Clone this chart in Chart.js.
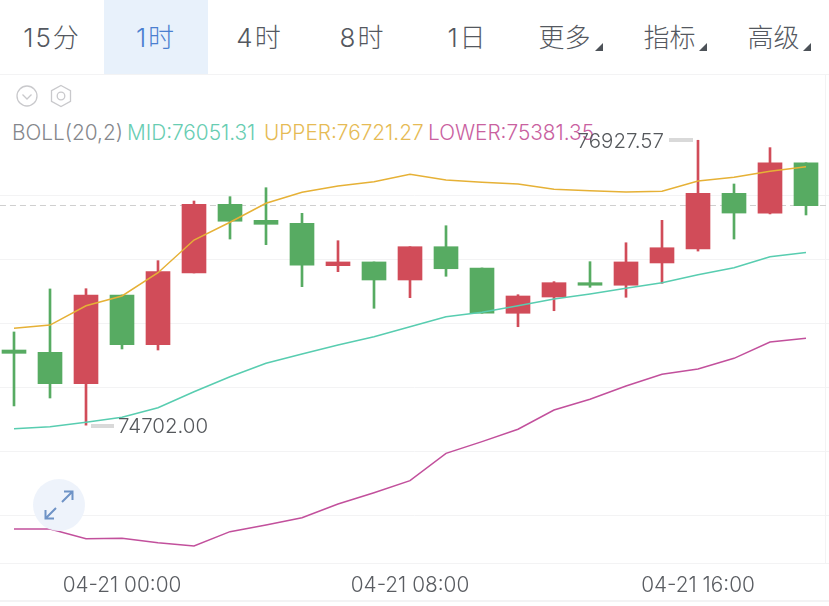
<!DOCTYPE html>
<html lang="zh">
<head>
<meta charset="utf-8">
<script src="https://cdn.jsdelivr.net/npm/chart.js@4"></script>
<style>
html,body{margin:0;padding:0;background:#fff;width:829px;height:606px;overflow:hidden}
#wrap{position:relative;width:829px;height:606px;font-family:Inter,"Noto Sans CJK SC",sans-serif}
.tab{position:absolute;top:0;height:74px;line-height:76px;text-align:center;font-size:26px;color:#545860;font-weight:300;white-space:nowrap}
.tab.num{letter-spacing:2px}
.tab.on{background:#e8f1fb;color:#4a7fd0}
.tri{position:absolute;width:0;height:0;border-left:8px solid transparent;border-bottom:8px solid #4d5258;top:43px}
#boll{position:absolute;left:12px;top:120px;font-size:20.8px;line-height:26px;white-space:nowrap;font-weight:300}
#boll span{position:absolute;top:0}
.rule{position:absolute;background:#f3f3f4}
canvas{position:absolute;left:0;top:0}
svg{position:absolute}
</style>
</head>
<body>
<div id="wrap">
  <div class="tab num" style="left:0;width:104px">15分</div>
  <div class="tab num on" style="left:104px;width:104px">1时</div>
  <div class="tab num" style="left:208px;width:103px">4时</div>
  <div class="tab num" style="left:311px;width:103px">8时</div>
  <div class="tab num" style="left:416px;width:103px">1日</div>
  <div class="tab" style="left:513px;width:103px">更多</div><div class="tri" style="left:595px"></div>
  <div class="tab" style="left:618px;width:103px">指标</div><div class="tri" style="left:699px"></div>
  <div class="tab" style="left:722px;width:103px">高级</div><div class="tri" style="left:803px"></div>
  <div class="rule" style="left:0;top:74px;width:829px;height:1px"></div>
  <svg style="left:14px;top:82px" width="62" height="28" viewBox="0 0 62 28" fill="none" stroke="#c9c9cc" stroke-width="1.3">
    <circle cx="13" cy="14" r="10"/><path d="M8.5 12.5 13 17l4.5-4.5"/>
    <path d="M47 3.5l9.5 5.2v10.6L47 24.5l-9.5-5.2V8.700z"/><circle cx="47" cy="14" r="3.800"/>
  </svg>
  <div id="boll">
    <span style="left:0;color:#85878c">BOLL(20,2)</span>
    <span style="left:115px;color:#68cdb2">MID:76051.31</span>
    <span style="left:252px;color:#e6bb55">UPPER:76721.27</span>
    <span style="left:416px;color:#c9619f">LOWER:75381.35</span>
  </div>
  <div class="rule" style="left:825px;top:75px;width:1px;height:488px"></div>
  <div class="rule" style="left:0;top:563px;width:829px;height:1px"></div>
  <div class="rule" style="left:0;top:600px;width:829px;height:2px"></div>
  <canvas id="c" width="829" height="606"></canvas>
  <svg style="left:32px;top:478px" width="54" height="54" viewBox="0 0 54 54" fill="none">
    <circle cx="27" cy="27" r="26" fill="#edf2fb" fill-opacity=".95"/>
    <path d="M30 24 40 14M32 13.500h8.500V22M24 30 14 40M22 40.500h-8.500V32" stroke="#6f93c6" stroke-width="2"/>
  </svg>
</div>
<script>
const timeLabels = ['04-20 21:00','04-20 22:00','04-20 23:00','04-21 00:00','04-21 01:00','04-21 02:00','04-21 03:00','04-21 04:00','04-21 05:00','04-21 06:00','04-21 07:00','04-21 08:00','04-21 09:00','04-21 10:00','04-21 11:00','04-21 12:00','04-21 13:00','04-21 14:00','04-21 15:00','04-21 16:00','04-21 17:00','04-21 18:00','04-21 19:00'];
const shownTicks = [3, 11, 19];
const gridValues = [74000, 74500, 75000, 75500, 76000, 76500];
const opens  = [75289,75271,75026,75719,75330,75891,76427,76302,76279,75948,75977,75836,76096,75930,75576,75703,75815,75795,75969,76078,76513,76359,76752];
const closes = [75263,75026,75719,75330,75901,76427,76295,76271,75951,75977,75836,76096,75924,75576,75711,75815,75795,75977,76088,76513,76359,76752,76416];
const highs  = [75430,75766,75768,75719,75987,76453,76487,76557,76357,76143,75977,76096,76260,75930,75721,75823,75979,76127,76302,76927.57,76586,76870,76752];
const lows   = [74852,74914,74702,75297,75289,75891,76156,76112,75784,75901,75615,75698,75865,75576,75471,75596,75779,75701,75810,76062,76156,76352,76344];
const candleIsUp = [false,false,true,false,true,true,false,false,false,true,false,true,false,false,true,true,false,true,true,true,false,true,false];
const upperBand = [75459,75484,75635,75711,75893,76148,76287,76435,76521,76570,76604,76662,76617,76599,76586,76545,76534,76523,76529,76609,76638,76685,76721.27];
const midBand   = [74674,74690,74724,74763,74838,74963,75080,75185,75258,75328,75393,75471,75549,75584,75635,75688,75727,75771,75815,75877,75932,76018,76051.31];
const lowerBand = [73891,73891,73815,73818,73784,73758,73870,73922,73979,74086,74174,74268,74482,74573,74670,74820,74904,75008,75099,75141,75224,75352,75381.35];
const lastPrice = 76418;
const highMark = {index: 19, text: '76927.57', value: 76927.57};
const lowMark  = {index: 2,  text: '74702.00', value: 74702};

const RED = '#d14c59', GREEN = '#57ab62';
const colours = candleIsUp.map(u => u ? RED : GREEN);
const pts = arr => arr.map((v, i) => ({x: i, y: v}));

const markPlugin = {
  id: 'marks',
  afterDatasetsDraw(chart) {
    const {ctx, scales: {x, y}} = chart;
    ctx.save();
    ctx.font = '300 20.5px Inter, sans-serif';
    ctx.textBaseline = 'middle';
    const draw = (m, side) => {
      const px = x.getPixelForValue(m.index), py = Math.round(y.getPixelForValue(m.value));
      ctx.fillStyle = '#d9d9d9';
      if (side < 0) ctx.fillRect(px - 29, py - 2, 24, 4); else ctx.fillRect(px + 5, py - 1, 23, 4);
      ctx.fillStyle = '#55585c';
      ctx.textAlign = side < 0 ? 'right' : 'left';
      ctx.fillText(m.text, side < 0 ? px - 34 : px + 32, py + 2);
    };
    draw(highMark, -1);
    draw(lowMark, 1);
    ctx.restore();
  }
};

new Chart(document.getElementById('c'), {
  data: {
    datasets: [
      {type: 'line', data: [{x: -0.39, y: lastPrice}, {x: 22.64, y: lastPrice}], borderColor: '#cfcfcf', borderWidth: 1, borderDash: [6, 4], pointRadius: 0, order: 5},
      {type: 'bar', data: pts(highs).map((p, i) => ({x: i, y: [lows[i], highs[i]]})), backgroundColor: colours, barThickness: 2, grouped: false, order: 4},
      {type: 'bar', data: pts(opens).map((p, i) => ({x: i, y: [opens[i], closes[i]]})), backgroundColor: colours, barThickness: 24, grouped: false, order: 3},
      {type: 'line', data: pts(upperBand), borderColor: '#e6b136', borderWidth: 1.5, pointRadius: 0, tension: 0, order: 1},
      {type: 'line', data: pts(midBand), borderColor: '#58cdb0', borderWidth: 1.5, pointRadius: 0, tension: 0, order: 1},
      {type: 'line', data: pts(lowerBand), borderColor: '#c2509c', borderWidth: 1.5, pointRadius: 0, tension: 0, order: 1}
    ]
  },
  options: {
    responsive: false,
    animation: false,
    layout: {padding: {top: 75, left: 0, right: 0, bottom: 0}},
    plugins: {legend: {display: false}, tooltip: {enabled: false}},
    scales: {
      x: {
        type: 'linear', min: -0.3889, max: 22.6389, offset: false,
        grid: {display: false}, border: {display: false},
        afterBuildTicks: s => { s.ticks = shownTicks.map(v => ({value: v})); },
        afterFit: s => { s.height = 43; },
        ticks: {
          autoSkip: false, maxRotation: 0, padding: 2, color: '#5a5d62',
          font: {family: 'Inter, sans-serif', size: 20.8, weight: 300},
          callback: v => timeLabels[v]
        }
      },
      y: {
        min: 73625, max: 77437.5,
        display: true,
        afterBuildTicks: s => { s.ticks = gridValues.map(v => ({value: v})); },
        afterFit: s => { s.width = 0; },
        grid: {color: '#f3f3f4', drawTicks: false}, border: {display: false},
        ticks: {display: false}
      }
    }
  },
  plugins: [markPlugin]
});
</script>
</body>
</html>
